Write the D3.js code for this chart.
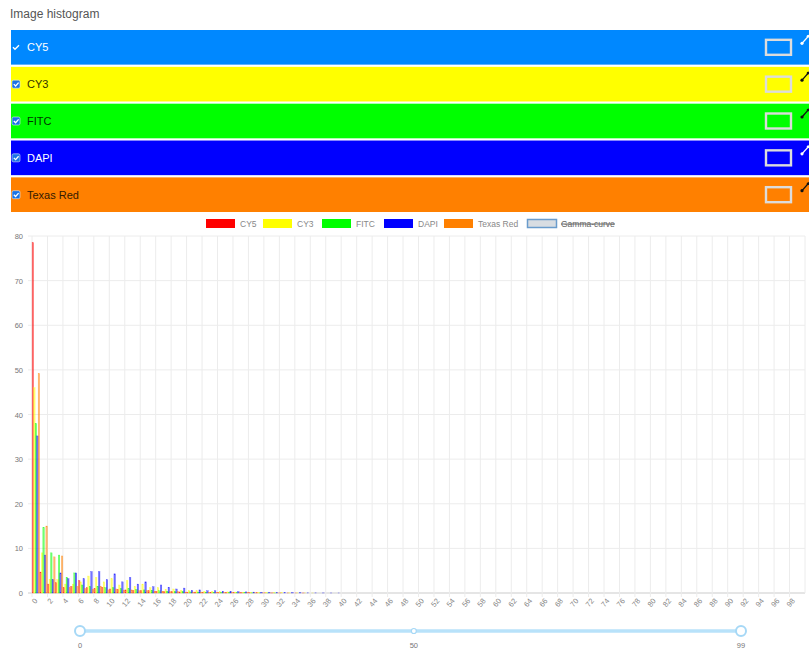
<!DOCTYPE html>
<html>
<head>
<meta charset="utf-8">
<script src="https://cdn.jsdelivr.net/npm/d3@7/dist/d3.min.js"></script>
<style>
body{margin:0;background:#fff;font-family:"Liberation Sans",Arial,sans-serif;}
</style>
</head>
<body>
<svg id="c" width="809" height="653"></svg>
<script>
const channels = ["CY5","CY3","FITC","DAPI","Texas Red"];
const bandColors = ["#0088ff","#ffff00","#00ff00","#0000ff","#ff8000"];
const bandText = ["#ffffff","#333300","#003300","#ffffff","#331a00"];
const legendLabels = ["CY5","CY3","FITC","DAPI","Texas Red","Gamma-curve"];
const seriesColors = ["#ff0000","#ffff00","#00ff00","#0000ff","#ff8000"];
const categories = d3.range(0,100);
const yTicks = [0,10,20,30,40,50,60,70,80];
const sliderTicks = [0,50,99];

const cy5 = [78.5,4.7,2.0,2.3,1.2,1.5,2.8,1.2,1.0,1.3,0.9,0.8,0.7,0.6,0.5,0.5,0.4,0.3,0.3,0.25,
 0.2,0.2,0.15,0.15,0.1,0.1,0.1,0.08,0.06,0.05,0.04,0.03,0.02,0.02,0.01,0.01,0,0,0,0,
 0,0,0,0,0,0,0,0,0,0,0,0,0,0,0,0,0,0,0,0,
 0,0,0,0,0,0,0,0,0,0,0,0,0,0,0,0,0,0,0,0,
 0,0,0,0,0,0,0,0,0,0,0,0,0,0,0,0,0,0,0,0];
const cy3 = [46,9,3,3,2,2,2.5,3.8,3.5,2.5,3.2,1.8,2.8,1.5,2,1.2,1.2,0.8,0.9,0.6,
 0.6,0.5,0.4,0.35,0.3,0.25,0.2,0.15,0.12,0.1,0.08,0.06,0.05,0.04,0.03,0.02,0.01,0,0,0,
 0,0,0,0,0,0,0,0,0,0,0,0,0,0,0,0,0,0,0,0,
 0,0,0,0,0,0,0,0,0,0,0,0,0,0,0,0,0,0,0,0,
 0,0,0,0,0,0,0,0,0,0,0,0,0,0,0,0,0,0,0,0];
const fitc = [38,14.7,9,8.5,3.5,4.5,1.8,1.5,1.5,1.2,1.2,1.0,1.0,0.8,0.7,0.6,0.5,0.4,0.35,0.3,
 0.25,0.2,0.15,0.12,0.1,0.08,0.06,0.05,0.04,0.03,0.02,0.01,0,0,0,0,0,0,0,0,
 0,0,0,0,0,0,0,0,0,0,0,0,0,0,0,0,0,0,0,0,
 0,0,0,0,0,0,0,0,0,0,0,0,0,0,0,0,0,0,0,0,
 0,0,0,0,0,0,0,0,0,0,0,0,0,0,0,0,0,0,0,0];
const dapi = [35.2,8.5,3,4.5,3.2,4.5,3.2,4.8,4.8,3.0,4.3,2.5,3.5,2.0,2.5,1.4,1.8,1.3,0.9,1.1,
 0.6,0.7,0.5,0.5,0.4,0.35,0.3,0.25,0.2,0.15,0.12,0.1,0.08,0.06,0.05,0.04,0.03,0.02,0.01,0.01,
 0,0,0,0,0,0,0,0,0,0,0,0,0,0,0,0,0,0,0,0,
 0,0,0,0,0,0,0,0,0,0,0,0,0,0,0,0,0,0,0,0,
 0,0,0,0,0,0,0,0,0,0,0,0,0,0,0,0,0,0,0,0];
const texasRed = [49.2,15,8.1,8.3,1.2,1.5,1.0,0.8,1.5,0.7,0.9,0.6,0.7,0.5,0.5,0.4,0.4,0.3,0.3,0.2,
 0.2,0.2,0.15,0.1,0.1,0.08,0.06,0.05,0.04,0.03,0.02,0.01,0,0,0,0,0,0,0,0,
 0,0,0,0,0,0,0,0,0,0,0,0,0,0,0,0,0,0,0,0,
 0,0,0,0,0,0,0,0,0,0,0,0,0,0,0,0,0,0,0,0,
 0,0,0,0,0,0,0,0,0,0,0,0,0,0,0,0,0,0,0,0];
const series = [cy5,cy3,fitc,dapi,texasRed];

const svg = d3.select("#c");
const font = '"Liberation Sans",Arial,sans-serif';

// Title
svg.append("text").attr("x",10).attr("y",18).attr("font-size",12).attr("fill","#555")
  .attr("font-family",font).text("Image histogram");

// Channel bands
const bandY = d3.scaleBand().domain(channels).range([30,212]).paddingInner(0.06);
channels.forEach((ch,i)=>{
  const by = bandY(ch), h = bandY.bandwidth();
  const g = svg.append("g");
  g.append("rect").attr("x",11).attr("y",by).attr("width",798).attr("height",h).attr("fill",bandColors[i]);
  const cy = by + h/2;
  if(i===0){
    g.append("path").attr("d",`M13,${cy} l2,2 l4,-4`).attr("stroke","#fff").attr("stroke-width",1.4).attr("fill","none");
  } else {
    g.append("rect").attr("x",12).attr("y",cy-4).attr("width",8).attr("height",8).attr("rx",1.5).attr("fill","#1a73e8").attr("stroke","#dfe8f5").attr("stroke-width",0.6);
    g.append("path").attr("d",`M13.8,${cy} l1.8,1.8 l3,-3.4`).attr("stroke","#fff").attr("stroke-width",1.3).attr("fill","none");
  }
  g.append("text").attr("x",27).attr("y",cy+4).attr("font-size",11).attr("font-family",font)
    .attr("fill",bandText[i]).text(ch);
  g.append("rect").attr("x",766).attr("y",cy-7.5).attr("width",25).attr("height",15)
    .attr("fill","none").attr("stroke","#dcdcdc").attr("stroke-width",2.4);
  const ic = (i===0||i===3)?"#ffffff":"#111111";
  g.append("line").attr("x1",802).attr("y1",cy-4).attr("x2",810).attr("y2",cy-13).attr("stroke",ic).attr("stroke-width",1.3);
  g.append("circle").attr("cx",802).attr("cy",cy-4).attr("r",1.6).attr("fill",ic);
  g.append("circle").attr("cx",808).attr("cy",cy-11).attr("r",1.3).attr("fill",ic);
});

// Legend
const legendX = [206,263,322,384,444,527];
legendLabels.forEach((lab,i)=>{
  const lx = legendX[i];
  if(i<5){
    svg.append("rect").attr("x",lx).attr("y",219).attr("width",29).attr("height",9).attr("fill",seriesColors[i]);
  } else {
    svg.append("rect").attr("x",lx+0.5).attr("y",219.5).attr("width",29).attr("height",8).attr("fill","#d8dde2").attr("stroke","#6a9ccc").attr("stroke-width",1.5);
  }
  const t = svg.append("text").attr("x",lx+34).attr("y",227).attr("font-size",8.5).attr("font-family",font)
    .attr("fill",i<5?"#888":"#666").text(lab);
  if(i===5){
    const w = t.node().getComputedTextLength();
    svg.append("line").attr("x1",lx+34).attr("x2",lx+34+w).attr("y1",224).attr("y2",224).attr("stroke","#666").attr("stroke-width",1);
  }
});

// Plot
const pLeft = 32, pRight = 805, pTop = 236, pBottom = 593;
const x = d3.scaleBand().domain(categories).range([pLeft,pRight]).paddingInner(0).paddingOuter(0);
const y = d3.scaleLinear().domain([0,80]).range([pBottom,pTop]);
const grid = svg.append("g");
yTicks.forEach(t=>{
  grid.append("line").attr("x1",pLeft-4).attr("x2",pRight).attr("y1",y(t)).attr("y2",y(t))
    .attr("stroke",t===0?"#dcdcdc":"#ececec").attr("stroke-width",t===0?1.5:1);
  svg.append("text").attr("x",pLeft-9).attr("y",y(t)+3).attr("text-anchor","end")
    .attr("font-size",7.5).attr("font-family",font).attr("fill","#777").text(t);
});
categories.filter(c=>c%2===0).forEach(c=>{
  const gx = x(c);
  grid.append("line").attr("x1",gx).attr("x2",gx).attr("y1",pTop).attr("y2",pBottom+4)
    .attr("stroke","#ececec").attr("stroke-width",1);
  svg.append("text").attr("transform",`translate(${gx+x.bandwidth()/2+2},${pBottom+8}) rotate(-50)`)
    .attr("text-anchor","end").attr("font-size",7.5).attr("font-family",font).attr("fill","#888").text(c);
});
grid.append("line").attr("x1",pRight).attr("x2",pRight).attr("y1",pTop).attr("y2",pBottom).attr("stroke","#ececec");

const inner = d3.scaleBand().domain(d3.range(series.length)).range([0,x.bandwidth()]).paddingInner(0).paddingOuter(0.05);
series.forEach((vals,si)=>{
  svg.append("g").selectAll("rect").data(vals.map((v,i)=>({c:categories[i],v})).filter(d=>d.v>0))
    .join("rect")
    .attr("x",d=>x(d.c)+inner(si))
    .attr("width",inner.bandwidth())
    .attr("y",d=>y(d.v))
    .attr("height",d=>pBottom-y(d.v))
    .attr("fill",seriesColors[si]).attr("fill-opacity",0.55)
    .attr("stroke",seriesColors[si]).attr("stroke-opacity",0.6).attr("stroke-width",0.4);
});

// Slider
const sx = d3.scaleLinear().domain([0,99]).range([80,741]);
svg.append("line").attr("x1",sx(0)).attr("x2",sx(99)).attr("y1",631).attr("y2",631)
  .attr("stroke","#b8e2fa").attr("stroke-width",3.5);
sliderTicks.forEach(t=>{
  const r = t===50?2.5:5;
  svg.append("circle").attr("cx",sx(t)).attr("cy",631).attr("r",r).attr("fill","#fff")
    .attr("stroke","#a6d8f6").attr("stroke-width",t===50?1.2:2);
  svg.append("text").attr("x",sx(t)).attr("y",648).attr("text-anchor","middle")
    .attr("font-size",7.5).attr("font-family",font).attr("fill","#777").text(t);
});
</script>
</body>
</html>
